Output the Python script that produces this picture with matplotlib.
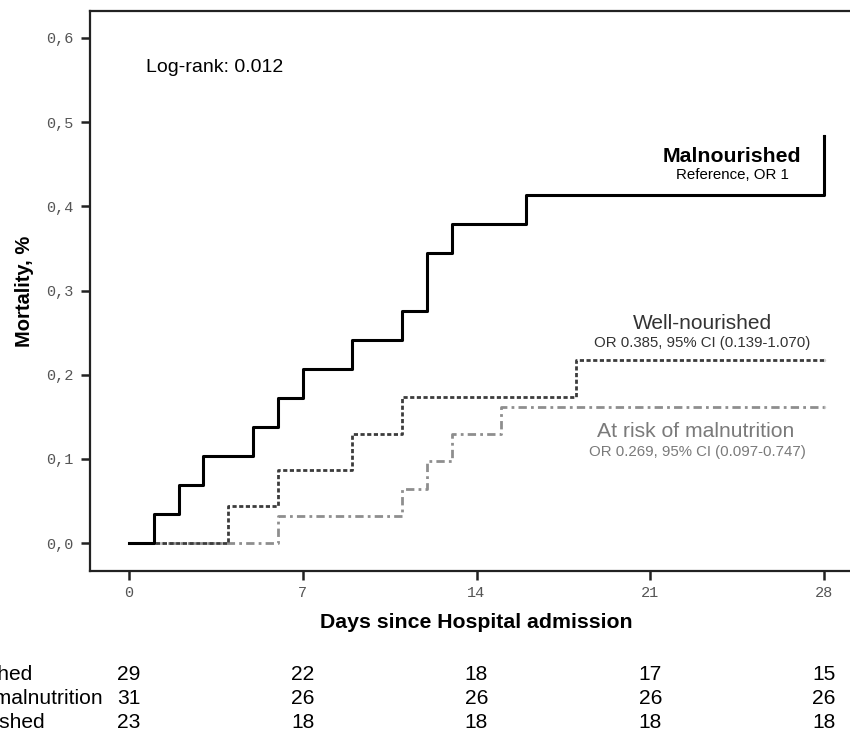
import matplotlib
matplotlib.use("Agg")
import matplotlib.pyplot as plt

# ---- data ----
mal_days = [0, 1, 2, 3, 5, 6, 7, 9, 11, 12, 13, 16, 28]
mal_mort = [0, 0.0345, 0.069, 0.103, 0.138, 0.172, 0.207, 0.241, 0.276, 0.345, 0.379, 0.414, 0.483]
well_days = [0, 4, 6, 9, 11, 18, 28]
well_mort = [0, 0.0435, 0.087, 0.130, 0.174, 0.217, 0.217]
risk_days = [0, 6, 11, 12, 13, 15, 28]
risk_mort = [0, 0.032, 0.0645, 0.097, 0.129, 0.161, 0.161]

x_ticks = [0, 7, 14, 21, 28]
y_ticks = [0.0, 0.1, 0.2, 0.3, 0.4, 0.5, 0.6]
y_tick_labels = ["0,0", "0,1", "0,2", "0,3", "0,4", "0,5", "0,6"]

table_times = [0, 7, 14, 21, 28]
table_labels = ["Malnourished", "At risk of malnutrition", "Well-nourished"]
mal_n = [29, 22, 18, 17, 15]
risk_n = [31, 26, 26, 26, 26]
well_n = [23, 18, 18, 18, 18]

W, H = 850, 733
fig = plt.figure(figsize=(W / 100, H / 100), dpi=100)
SANS = "Liberation Sans"
MONO = "Liberation Mono"

ax_l, ax_r, ax_t, ax_b = 90, 870, 11, 571
ax = fig.add_axes([ax_l / W, 1 - ax_b / H, (ax_r - ax_l) / W, (ax_b - ax_t) / H])
px_per_day = (824 - 129) / 28
xmin = -(129 - ax_l) / px_per_day
xmax = xmin + (ax_r - ax_l) / px_per_day
px_per_unit = (543 - 38) / 0.6
ymin = -(ax_b - 543) / px_per_unit
ymax = 0.6 + (38 - ax_t) / px_per_unit
ax.set_xlim(xmin, xmax)
ax.set_ylim(ymin, ymax)

ax.step(risk_days, risk_mort, where="post", color="#8e8e8e", lw=2.0,
        linestyle=(0, (3.0, 1.5, 1.0, 1.5)))
ax.step(well_days, well_mort, where="post", color="#3c3c3c", lw=2.0,
        linestyle=(0, (1.5, 0.9)))
ax.step(mal_days, mal_mort, where="post", color="black", lw=2.2)
for d, m in ((mal_days, mal_mort), (well_days, well_mort), (risk_days, risk_mort)):
    ax.plot([d[-1]], [m[-1]], marker="o", ms=2.5, color="#d0d0d0", mec="none", zorder=1)

for s in ax.spines.values():
    s.set_linewidth(1.6)
    s.set_color("#222222")

ax.set_xticks(x_ticks)
ax.set_xticklabels([str(t) for t in x_ticks])
ax.set_yticks(y_ticks)
ax.set_yticklabels(y_tick_labels)
ax.tick_params(direction="out", length=6.5, width=1.8, color="#222222",
               labelsize=11, labelcolor="#555555")
ax.tick_params(axis="y", pad=5.5)
ax.tick_params(axis="x", pad=4)
for lab in ax.get_xticklabels() + ax.get_yticklabels():
    lab.set_fontfamily(MONO)

fig.text(476 / W, 1 - 622 / H, "Days since Hospital admission", ha="center", va="center",
         fontsize=15.3, fontweight="bold", family=SANS)
fig.text(24 / W, 1 - 291 / H, "Mortality, %", ha="center", va="center", rotation=90,
         fontsize=14.5, fontweight="bold", family=SANS)

fig.text(146 / W, 1 - 67 / H, "Log-rank: 0.012", ha="left", va="center",
         fontsize=14, family=SANS)

fig.text(732 / W, 1 - 156 / H, "Malnourished", ha="center", va="center",
         fontsize=15.3, fontweight="bold", family=SANS, color="black")
fig.text(732 / W, 1 - 175 / H, "Reference, OR 1", ha="center", va="center",
         fontsize=10.8, family=SANS, color="black")
fig.text(702 / W, 1 - 323 / H, "Well-nourished", ha="center", va="center",
         fontsize=15, family=SANS, color="#333333")
fig.text(702 / W, 1 - 343 / H, "OR 0.385, 95% CI (0.139-1.070)", ha="center", va="center",
         fontsize=10.8, family=SANS, color="#333333")
fig.text(696 / W, 1 - 432 / H, "At risk of malnutrition", ha="center", va="center",
         fontsize=15.2, family=SANS, color="#7a7a7a")
fig.text(697 / W, 1 - 452 / H, "OR 0.269, 95% CI (0.097-0.747)", ha="center", va="center",
         fontsize=10.8, family=SANS, color="#7a7a7a")

# number-at-risk table (row labels run off the left edge, as in the reference)
row_y = [674, 698, 722]
for label, counts, yy in zip(table_labels, [mal_n, risk_n, well_n], row_y):
    fig.text(-94 / W, 1 - yy / H, label, ha="left", va="center", fontsize=15.1, family=SANS)
    for t, n in zip(table_times, counts):
        xd = ax.transData.transform((t, 0))[0]
        fig.text(xd / W, 1 - yy / H, str(n), ha="center", va="center",
                 fontsize=15.1, family=SANS)

fig.savefig("out.png", dpi=100)
